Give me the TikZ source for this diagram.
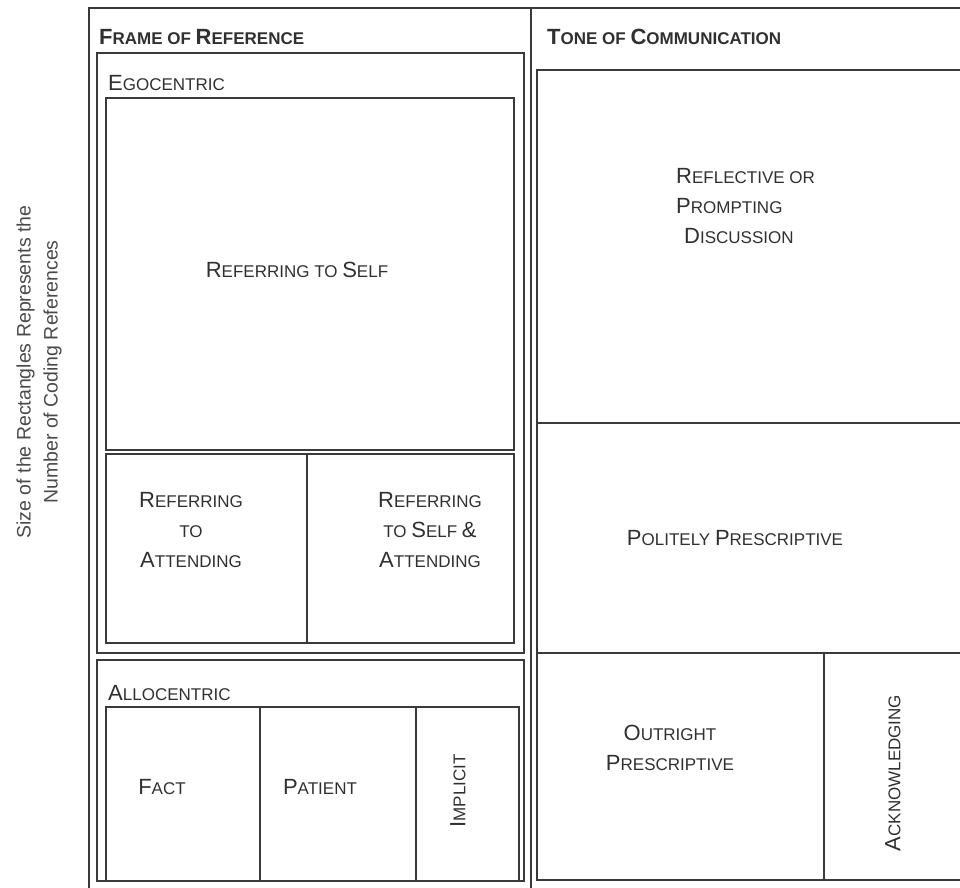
\documentclass[tikz,border=0pt]{standalone}
\usepackage{fontspec}
\setmainfont{Liberation Sans}
\usepackage{tikz}

\definecolor{linegray}{HTML}{3A3A3A}
\definecolor{textgray}{HTML}{303030}
\definecolor{sidegray}{HTML}{4A4A4A}

% fake small caps: big first letter, rest in smaller capitals
\newcommand{\scword}[2]{{\fontsize{22}{30}\selectfont #1}{\fontsize{17}{30}\selectfont #2}}
\newcommand{\bigamp}{{\fontsize{22}{30}\selectfont\&}}

\tikzset{
    box/.style={draw=linegray, line width=2pt},
    label/.style={text=textgray, inner sep=0pt, font=\fontsize{17}{30}\selectfont},
    heading/.style={label, anchor=base west, font=\fontsize{17.5}{30}\selectfont\bfseries},
    groupname/.style={label, anchor=base west}
}

\begin{document}
\begin{tikzpicture}[x=1pt, y=-1pt]
    \useasboundingbox (0,0) rectangle (960,887);
    \clip (0,0) rectangle (960,887);

    % Outer frames
    \draw[box] (89,895) |- (970,8);
    \draw[box] (531,8) -- (531,895);

    % Frame of reference: egocentric
    \draw[box] (97,53) rectangle (524,653);
    \draw[box] (106,98) rectangle (514,450);
    \draw[box] (106,454) rectangle (514,643);
    \draw[box] (307,454) -- (307,643);

    % Frame of reference: allocentric
    \draw[box] (97,660) rectangle (524,881);
    \draw[box] (106,707) rectangle (519,881);
    \draw[box] (260,707) -- (260,881);
    \draw[box] (416,707) -- (416,881);

    % Tone of communication
    \draw[box] (537,70) rectangle (970,423);
    \draw[box] (537,423) rectangle (970,653);
    \draw[box] (537,653) rectangle (824,880);
    \draw[box] (824,653) rectangle (970,880);

    % Headings
    \node[heading] (FrameTitle) at (99,44) {\scword{F}{RAME OF }\scword{R}{EFERENCE}};
    \node[heading] (ToneTitle) at (547,44) {\scword{T}{ONE OF }\scword{C}{OMMUNICATION}};
    \node[groupname] (Ego) at (108,90) {\scword{E}{GOCENTRIC}};
    \node[groupname] (Allo) at (108,700) {\scword{A}{LLOCENTRIC}};

    % Egocentric categories
    \node[label] (Self) at (297,270) {\scword{R}{EFERRING TO }\scword{S}{ELF}};
    \node[label, align=center] (Attend) at (191,530) {\scword{R}{EFERRING}\\TO\\\scword{A}{TTENDING}};
    \node[label, align=center] (SelfAttend) at (430,530) {\scword{R}{EFERRING}\\TO \scword{S}{ELF }\bigamp\\\scword{A}{TTENDING}};

    % Allocentric categories
    \node[label] (Fact) at (162,787) {\scword{F}{ACT}};
    \node[label] (Patient) at (320,787) {\scword{P}{ATIENT}};
    \node[label, rotate=90] (Implicit) at (458,791) {\scword{I}{MPLICIT}};

    % Tone categories
    \node[label, align=left, anchor=north west] (Reflect) at (676,168) {\scword{R}{EFLECTIVE OR}\\\scword{P}{ROMPTING}\\\hspace{8pt}\scword{D}{ISCUSSION}};
    \node[label] (Polite) at (735,538) {\scword{P}{OLITELY }\scword{P}{RESCRIPTIVE}};
    \node[label, align=center] (Outright) at (670,748) {\scword{O}{UTRIGHT}\\\scword{P}{RESCRIPTIVE}};
    \node[label, rotate=90] (Acknow) at (893,773) {\scword{A}{CKNOWLEDGING}};

    % Side note
    \node[text=sidegray, rotate=90, align=center, font=\fontsize{19.5}{27}\selectfont] (SizeNote) at (39,372)
        {Size of the Rectangles Represents the\\Number of Coding References};
\end{tikzpicture}
\end{document}
